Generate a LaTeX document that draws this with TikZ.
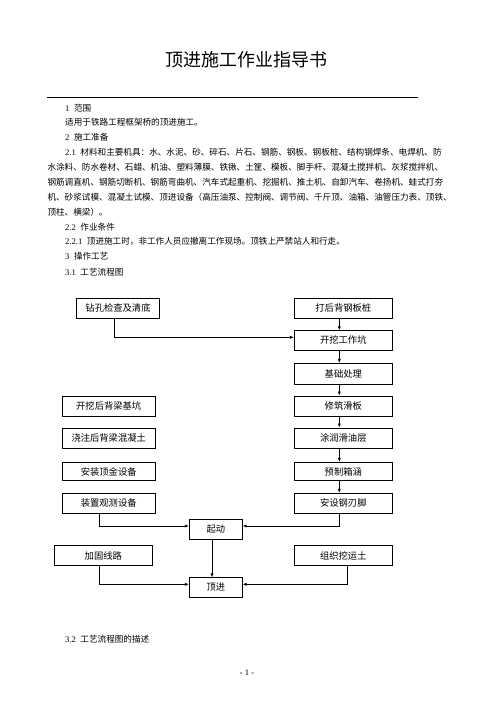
\documentclass[tikz,border=0pt]{standalone}
\usepackage{fontspec}
\setmainfont{Liberation Serif}
\newfontfamily\cjk{Noto Sans CJK SC}
\usetikzlibrary{arrows.meta}
\newcommand\shu[1]{{\rmfamily #1}\hspace{4.5pt}}

\begin{document}
\begin{tikzpicture}[x=1pt,y=-1pt,
    wenzi/.style={anchor=west,inner sep=0pt,font=\fontsize{8.6}{10}\selectfont\cjk},
    kuang/.style={draw,line width=0.8pt,minimum height=20pt,inner sep=0pt,font=\fontsize{9.3}{11}\selectfont\cjk},
    jt/.style={line width=0.7pt,-{Latex[length=4pt,width=3.2pt]}}]
    \useasboundingbox (0,0) rectangle (496,702);

    % 标题与正文
    \node[inner sep=0pt,font=\fontsize{18}{20}\selectfont\cjk] (biaoti) at (246.7,60) {顶进施工作业指导书};
    \draw[line width=0.8pt] (47.3,97.3) -- (418.3,97.3);

    \node[wenzi] (t1) at (65,108.3) {\shu{1}范围};
    \node[wenzi] (t2) at (65,122.5) {适用于铁路工程框架桥的顶进施工。};
    \node[wenzi] (t3) at (65,137.7) {\shu{2}施工准备};
    \node[wenzi] (t4) at (65,152.5) {\shu{2.1}材料和主要机具：水、水泥、砂、碎石、片石、钢筋、钢板、钢板桩、结构钢焊条、电焊机、防};
    \node[wenzi] (t5) at (47.3,167.5) {水涂料、防水卷材、石蜡、机油、塑料薄膜、铁锹、土筐、模板、脚手杆、混凝土搅拌机、灰浆搅拌机、};
    \node[wenzi] (t6) at (47.3,182.3) {钢筋调直机、钢筋切断机、钢筋弯曲机、汽车式起重机、挖掘机、推土机、自卸汽车、卷扬机、蛙式打夯};
    \node[wenzi] (t7) at (47.3,197) {机、砂浆试模、混凝土试模、顶进设备（高压油泵、控制阀、调节阀、千斤顶、油箱、油管压力表、顶铁、};
    \node[wenzi] (t8) at (47.3,212) {顶柱、横梁）。};
    \node[wenzi] (t9) at (65,227) {\shu{2.2}作业条件};
    \node[wenzi] (t10) at (65,241.7) {\shu{2.2.1}顶进施工时，非工作人员应撤离工作现场。顶铁上严禁站人和行走。};
    \node[wenzi] (t11) at (65,256.5) {\shu{3}操作工艺};
    \node[wenzi] (t12) at (65,272.5) {\shu{3.1}工艺流程图};
    \node[wenzi] (t13) at (65,639.3) {\shu{3.2}工艺流程图的描述};
    \node[inner sep=0pt,font=\fontsize{8.6}{10}\selectfont] (yema) at (247,672.3) {- 1 -};

    % 流程框
    \node[kuang,minimum width=82.6pt] (zk) at (118,308) {钻孔检查及清底};
    \node[kuang,minimum width=98pt] (dhb) at (343.3,308) {打后背钢板桩};
    \node[kuang,minimum width=98pt,minimum height=19.3pt] (kwg) at (343.3,340.3) {开挖工作坑};
    \node[kuang,minimum width=98pt,minimum height=20.7pt] (jc) at (343.3,373.7) {基础处理};
    \node[kuang,minimum width=98pt] (xz) at (343.3,406) {修筑滑板};
    \node[kuang,minimum width=98pt] (trh) at (343.3,438) {涂润滑油层};
    \node[kuang,minimum width=98pt,minimum height=18.4pt] (yz) at (343.3,471.5) {预制箱涵};
    \node[kuang,minimum width=98pt] (asg) at (343.3,503.3) {安设钢刃脚};

    \node[kuang,minimum width=92.7pt] (kwh) at (108.7,406) {开挖后背梁基坑};
    \node[kuang,minimum width=92.7pt] (jzh) at (108.7,438) {浇注后背梁混凝土};
    \node[kuang,minimum width=92.7pt,minimum height=18.4pt] (azd) at (108.7,471.5) {安装顶金设备};
    \node[kuang,minimum width=92.7pt] (zzg) at (108.7,503.3) {装置观测设备};

    \node[kuang,minimum width=53pt] (qd) at (215.8,529.3) {起动};
    \node[kuang,minimum width=98pt,minimum height=19.6pt] (jg) at (103.3,555.5) {加固线路};
    \node[kuang,minimum width=98pt,minimum height=19.6pt] (zzw) at (343.3,555.5) {组织挖运土};
    \node[kuang,minimum width=53pt,minimum height=19.6pt] (dj) at (215.8,587.5) {顶进};

    % 连线
    \draw[jt] ([xshift=-3.3pt]zk.south) |- ([yshift=3pt]kwg.west);
    \foreach \a/\b in {dhb/kwg,kwg/jc,jc/xz,xz/trh,trh/yz,yz/asg}
        \draw[jt] ([xshift=-4pt]\a.south) -- ([xshift=-4pt]\b.north);
    \draw[jt] ([xshift=-9.4pt]zzg.south) |- ([yshift=3.3pt]qd.west);
    \draw[jt] ([xshift=-4pt]asg.south) |- ([yshift=3.3pt]qd.east);
    \draw[jt] ([xshift=-3.8pt]qd.south) -- ([xshift=-3.8pt]dj.north);
    \draw[jt] ([xshift=-4pt]jg.south) |- ([yshift=3.2pt]dj.west);
    \draw[jt] ([xshift=4pt]zzw.south) |- ([yshift=3.2pt]dj.east);
\end{tikzpicture}
\end{document}
